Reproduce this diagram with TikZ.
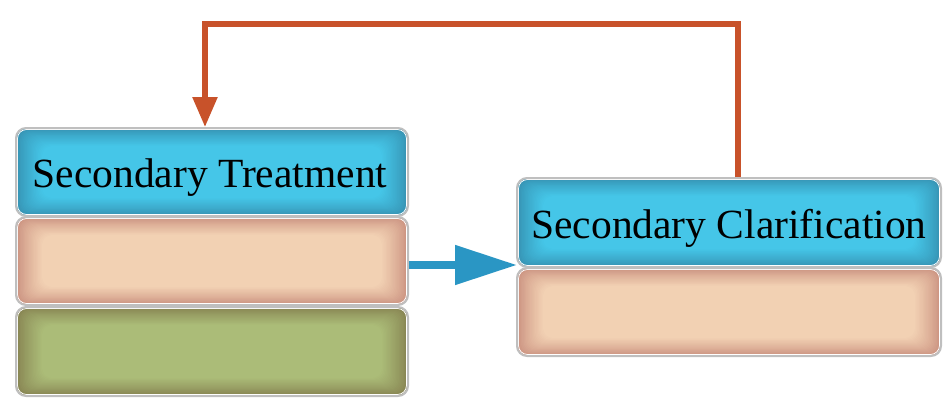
\documentclass[tikz,border=0pt]{standalone}
\usepackage{fontspec}
\setmainfont{Liberation Serif}
\usetikzlibrary{arrows.meta,calc}
\definecolor{blueEdge}{HTML}{3590B0}
\definecolor{blueMid}{HTML}{45C6E8}
\definecolor{peachEdge}{HTML}{C98F7E}
\definecolor{peachMid}{HTML}{F2D1B3}
\definecolor{greenEdge}{HTML}{858150}
\definecolor{greenMid}{HTML}{ABBC78}
\definecolor{loopC}{HTML}{C8522A}
\definecolor{arrowC}{HTML}{2A96C4}
\tikzset{
  glowbox/.style 2 args={rounded corners=10pt, draw=gray!50, line width=2pt,
    fill=#1,
    path picture={
      \foreach \i in {0,...,20}{
        \pgfmathsetmacro{\p}{100*(\i/20)^0.8}
        \colorlet{tmpc}{#2!\p!#1}
        \fill[tmpc, rounded corners=10pt]
          ($(path picture bounding box.south west)+(\i*1.3,-\i*0.9)$) rectangle
          ($(path picture bounding box.north east)+(-\i*1.3,\i*0.9)$);
      }
      \draw[white, line width=0.8pt, rounded corners=9pt]
        ($(path picture bounding box.south west)+(1.5,-1.5)$) rectangle
        ($(path picture bounding box.north east)+(-1.5,1.5)$);
    }},
  bluebox/.style={glowbox={blueEdge}{blueMid}},
  peachbox/.style={glowbox={peachEdge}{peachMid}},
  greenbox/.style={glowbox={greenEdge}{greenMid}},
  label/.style={font=\fontsize{41.5}{44}\selectfont},
  loopline/.style={draw=loopC, line width=5.5pt, -{Triangle[length=30pt,width=24pt]}},
  flowarrow/.style={draw=arrowC, line width=8pt, -{Triangle[length=62pt,width=38pt]}}
}
\begin{document}
\begin{tikzpicture}[x=1pt,y=-1pt]
\useasboundingbox (0,0) rectangle (950,410);
\node[bluebox, minimum width=392pt, minimum height=88pt] (lt) at (212,172) {};
\node[peachbox, minimum width=392pt, minimum height=88pt] (lp) at (212,261) {};
\node[greenbox, minimum width=392pt, minimum height=89pt] (lg) at (212,351.5) {};
\node[bluebox, minimum width=424pt, minimum height=89pt] (rb) at (729,222.5) {};
\node[peachbox, minimum width=424pt, minimum height=88pt] (rp) at (729,312) {};
\node[label] (ltt) at ($(lt.center)+(-2,6)$) {Secondary Treatment};
\node[label] (rbt) at ($(rb.center)+(0,6)$) {Secondary Clarification};
\coordinate (turn) at (205,24);
\coordinate (tipc) at (517,265);
\draw[loopline] ($(rb.north)+(9,0)$) |- (turn) -- (turn |- lt.north);
\draw[flowarrow] (lp.east |- tipc) -- (tipc);
\end{tikzpicture}
\end{document}
